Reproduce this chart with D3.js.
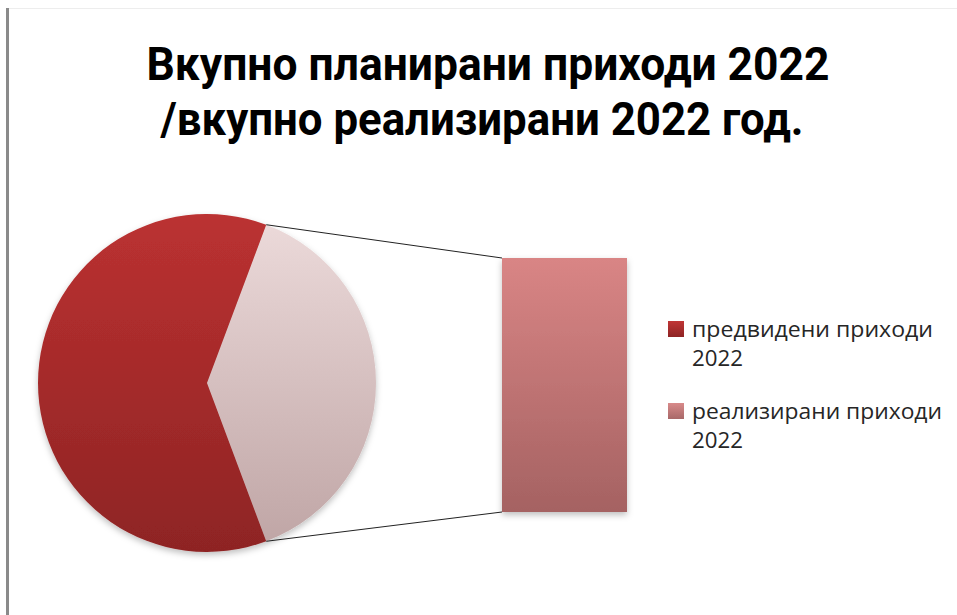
<!DOCTYPE html>
<html><head><meta charset="utf-8">
<script src="https://cdn.jsdelivr.net/npm/d3@7"></script>
<style>html,body{margin:0;padding:0;background:#fff;}svg{display:block;}</style>
</head><body>
<svg id="c" width="957" height="615"></svg>
<script>
const categories = ["предвидени приходи 2022", "реализирани приходи 2022"];
const values = [61.4, 38.6];
const titleLines = ["Вкупно планирани приходи 2022", "/вкупно реализирани 2022 год."];
const legendLines = [["предвидени приходи", "2022"], ["реализирани приходи", "2022"]];

const svg = d3.select("#c");
const defs = svg.append("defs");
function grad(id, c1, c2) {
  const g = defs.append("linearGradient").attr("id", id).attr("x1", 0).attr("y1", 0).attr("x2", 0).attr("y2", 1);
  g.append("stop").attr("offset", "0%").attr("stop-color", c1);
  g.append("stop").attr("offset", "100%").attr("stop-color", c2);
}
grad("gDark", "#bb3131", "#8e2424");
grad("gLight", "#ebd9d9", "#c0a6a6");
grad("gBar", "#d98585", "#a56262");
grad("gLeg1", "#c03535", "#8e2424");
grad("gLeg2", "#d88a8a", "#a86868");
const f = defs.append("filter").attr("id", "sh").attr("x", "-20%").attr("y", "-20%").attr("width", "140%").attr("height", "140%");
f.append("feDropShadow").attr("dx", 0).attr("dy", 3).attr("stdDeviation", 3).attr("flood-color", "#000").attr("flood-opacity", 0.25);

// frame lines
svg.append("line").attr("x1", 9).attr("x2", 957).attr("y1", 8.5).attr("y2", 8.5).attr("stroke", "#ededed").attr("stroke-width", 1);
svg.append("line").attr("x1", 7.5).attr("x2", 7.5).attr("y1", 8).attr("y2", 615).attr("stroke", "#8a8a8a").attr("stroke-width", 3);

// title
const titleFont = "Roboto, 'Open Sans', sans-serif";
const titlePos = [[488, 80, 683], [482, 135, 643]];
titleLines.forEach((s, i) => {
  svg.append("text").attr("text-anchor", "middle")
    .attr("font-family", titleFont).attr("font-weight", "bold").attr("font-size", 47).attr("fill", "#000")
    .attr("x", titlePos[i][0]).attr("y", titlePos[i][1])
    .attr("textLength", titlePos[i][2]).attr("lengthAdjust", "spacingAndGlyphs").text(s);
});

// pie
const cx = 207, cy = 383, r = 169;
const total = d3.sum(values);
const otherAngle = values[1] / total * 2 * Math.PI;
const pieData = [{k: 1, v: values[1]}, {k: 0, v: values[0]}];
const pie = d3.pie().sort(null).value(d => d.v)
  .startAngle(Math.PI / 2 - otherAngle / 2).endAngle(Math.PI / 2 - otherAngle / 2 + 2 * Math.PI);
const arcs = pie(pieData);
const arc = d3.arc().innerRadius(0).outerRadius(r);
const gp = svg.append("g").attr("transform", `translate(${cx},${cy})`).attr("filter", "url(#sh)");
gp.selectAll("path").data(arcs).join("path")
  .attr("d", arc)
  .attr("fill", d => d.data.k === 0 ? "url(#gDark)" : "url(#gLight)");

// bar of pie
const barTop = 258, barBottom = 512;
const y = d3.scaleLinear().domain([0, values[1]]).range([barBottom, barTop]);
const x = d3.scaleBand().domain(["other"]).range([502, 627]).padding(0);
const gb = svg.append("g").attr("filter", "url(#sh)");
gb.append("rect").attr("x", x("other")).attr("width", x.bandwidth())
  .attr("y", y(values[1])).attr("height", y(0) - y(values[1])).attr("fill", "url(#gBar)");

// connector lines
const a0 = arcs[0].startAngle, a1 = arcs[0].endAngle;
const p0 = [cx + r * Math.sin(a0), cy - r * Math.cos(a0)];
const p1 = [cx + r * Math.sin(a1), cy - r * Math.cos(a1)];
svg.append("line").attr("x1", p0[0]).attr("y1", p0[1]).attr("x2", x("other")).attr("y2", y(values[1]))
  .attr("stroke", "#222").attr("stroke-width", 1);
svg.append("line").attr("x1", p1[0]).attr("y1", p1[1]).attr("x2", x("other")).attr("y2", y(0))
  .attr("stroke", "#222").attr("stroke-width", 1);

// legend
const lg = svg.append("g");
const legFills = ["url(#gLeg1)", "url(#gLeg2)"];
const legWidths = [[241, 51], [250, 51]];
legendLines.forEach((lines, i) => {
  const yy = 321 + i * 82;
  lg.append("rect").attr("x", 668).attr("y", yy).attr("width", 16).attr("height", 16).attr("fill", legFills[i]);
  const t = lg.append("text").attr("font-family", "'Open Sans', 'Noto Sans', sans-serif").attr("font-size", 21).attr("fill", "#262626");
  t.append("tspan").attr("x", 692).attr("y", yy + 16).attr("textLength", legWidths[i][0]).attr("lengthAdjust", "spacingAndGlyphs").text(lines[0]);
  t.append("tspan").attr("x", 692).attr("y", yy + 45).attr("textLength", legWidths[i][1]).attr("lengthAdjust", "spacingAndGlyphs").text(lines[1]);
});
</script>
</body></html>
